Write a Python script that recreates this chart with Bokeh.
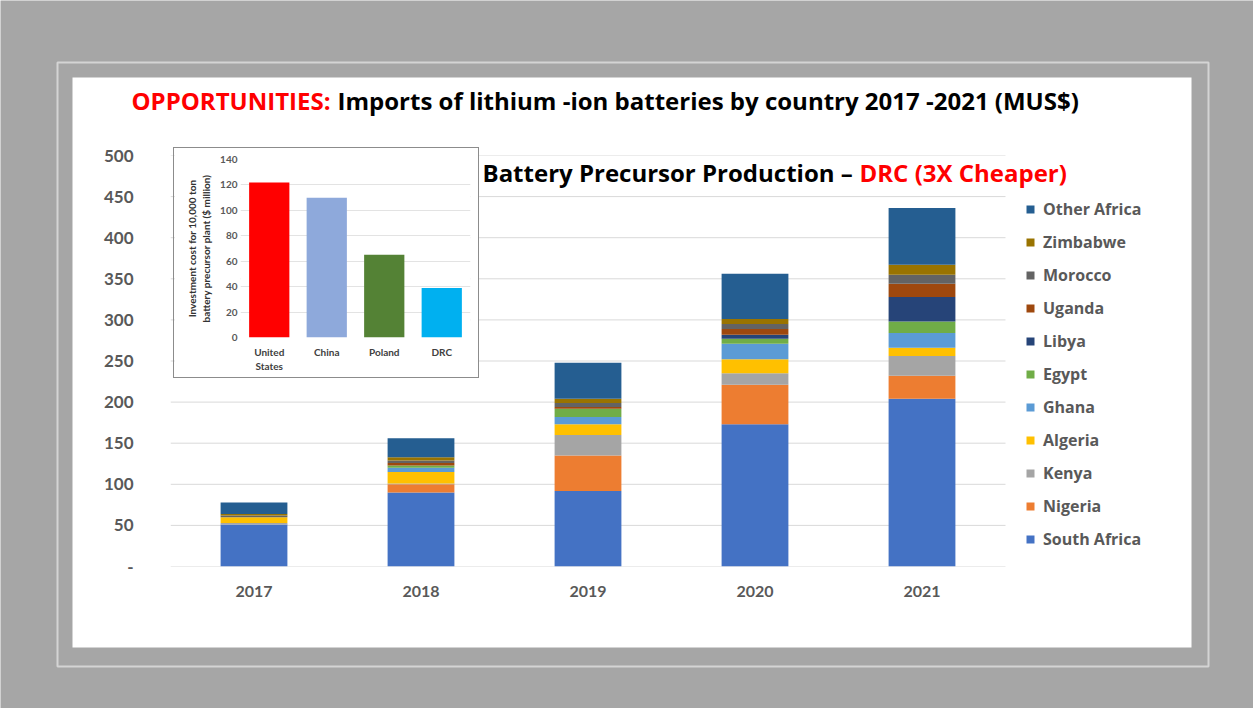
from bokeh.plotting import figure
from bokeh.models import (ColumnDataSource, Range1d, FixedTicker, Legend, LegendItem, Label)
from bokeh.layouts import column
from bokeh.embed import file_html
from bokeh.resources import INLINE

# ---------------- data ----------------
years = ["2017", "2018", "2019", "2020", "2021"]
south_africa = [51, 90, 92, 173, 204]
nigeria = [0, 10, 43, 48, 28]
kenya = [2, 1, 25, 14, 24]
algeria = [7, 14, 13, 17, 10]
ghana = [0, 5, 9, 19, 18]
egypt = [0, 3, 10, 6, 14]
libya = [0, 0, 0, 5, 30]
uganda = [0, 3, 2, 7, 16]
morocco = [2, 3, 5, 6, 11]
zimbabwe = [2, 4, 5, 6, 12]
other_africa = [14, 23, 44, 55, 69]

series_names = ["South Africa", "Nigeria", "Kenya", "Algeria", "Ghana", "Egypt",
                "Libya", "Uganda", "Morocco", "Zimbabwe", "Other Africa"]
series_values = [south_africa, nigeria, kenya, algeria, ghana, egypt,
                 libya, uganda, morocco, zimbabwe, other_africa]
series_colors = ["#4472C4", "#ED7D31", "#A5A5A5", "#FFC000", "#5B9BD5", "#70AD47",
                 "#264478", "#9E480E", "#636363", "#997300", "#255E91"]
y_ticks = [0, 50, 100, 150, 200, 250, 300, 350, 400, 450, 500]

inset_countries = ["United\nStates", "China", "Poland", "DRC"]
inset_costs = [122, 110, 65, 39]
inset_colors = ["#FF0000", "#8EA9DB", "#548235", "#00B0F0"]
inset_ticks = [0, 20, 40, 60, 80, 100, 120, 140]

FONT = "Lato"
TFONT = "Open Sans"
GRAY_TXT = "#595959"
W, H = 1253, 708

# ---------------- background layer (page, panel, headings) ----------------
bg = figure(width=W, height=H, x_range=Range1d(0, W), y_range=Range1d(H, 0),
            x_axis_type=None, y_axis_type=None, output_backend="svg",
            toolbar_location=None, title=None, min_border=0, frame_align=False,
            border_fill_color="#a6a6a6", background_fill_color="#a6a6a6",
            outline_line_color=None)
bg.quad(left=[57], right=[1208], top=[62], bottom=[666], fill_alpha=0,
        line_color="#d4d4d4", line_width=2)
bg.quad(left=[72], right=[1191], top=[77], bottom=[647], fill_color="white",
        line_color=None)

def lab(txt, x, y, color, size):
    bg.add_layout(Label(x=x, y=y, text=txt, text_color=color, text_font=TFONT,
                        text_font_style="bold", text_font_size=size,
                        text_baseline="middle", text_align="left"))

lab("OPPORTUNITIES:", 131, 100, "#FF0000", "24px")
lab("Imports of lithium -ion batteries by country 2017 -2021 (MUS$)", 337, 100, "#000000", "24px")
lab("Battery Precursor Production \u2013", 482, 172, "#000000", "24px")
lab("DRC (3X Cheaper)", 859, 172, "#FF0000", "24px")

# ---------------- main chart layer ----------------
# frame spans the white panel to the right so the legend is inside it;
# the five year slots occupy px 170..1005 (167 px each)
FL, FT, FB = 170, 155, 566
FR = 1191
slot = 167.0
x_pos = list(range(len(years)))
x_end = len(years) - 0.5 + (FR - (FL + slot * len(years))) / slot

p = figure(x_range=Range1d(-0.5, x_end), y_range=Range1d(0, 500), width=W, height=H,
           output_backend="svg", toolbar_location=None, title=None, frame_align=False,
           min_border_left=FL, min_border_right=W - FR,
           min_border_top=FT, min_border_bottom=H - FB,
           border_fill_alpha=0, background_fill_alpha=0,
           outline_line_color=None)
p.xgrid.visible = False
p.ygrid.visible = False

# horizontal gridlines only across the year slots
p.segment(x0=[-0.5] * len(y_ticks), x1=[len(years) - 0.5] * len(y_ticks),
          y0=y_ticks, y1=y_ticks, line_color="#d9d9d9", line_width=1, level="underlay")

data = {"x": x_pos}
for n, v in zip(series_names, series_values):
    data[n] = v
src = ColumnDataSource(data)
rends = p.vbar_stack(series_names, x="x", width=0.4, color=series_colors,
                     line_color=None, source=src)

for ax in (p.xaxis[0], p.yaxis[0]):
    ax.axis_line_color = None
    ax.major_tick_line_color = None
    ax.minor_tick_line_color = None
    ax.major_tick_out = 0
    ax.major_tick_in = 0
    ax.major_label_text_font = FONT
    ax.major_label_text_font_style = "bold"
    ax.major_label_text_font_size = "16px"
    ax.major_label_text_color = GRAY_TXT
p.yaxis.major_label_text_font_size = "17px"
p.xaxis.ticker = FixedTicker(ticks=x_pos)
p.xaxis.major_label_overrides = {i: y for i, y in zip(x_pos, years)}
p.xaxis.major_label_standoff = 19
p.yaxis.ticker = FixedTicker(ticks=y_ticks)
p.yaxis.major_label_overrides = {0: "-"}
p.yaxis.major_label_standoff = 37

items = [LegendItem(label=n, renderers=[r]) for n, r in zip(series_names, rends)][::-1]
legend = Legend(items=items, location=(1025 - FL, FB - 550),
                glyph_width=10, glyph_height=10, label_height=20, spacing=11,
                padding=0, margin=0, border_line_color=None, background_fill_alpha=0,
                label_text_font=TFONT, label_text_font_size="16px",
                label_text_font_style="bold",
                label_text_color=GRAY_TXT, label_standoff=8)
p.add_layout(legend)
p.styles = {"position": "absolute", "left": "0px", "top": "0px"}

# ---------------- inset chart ----------------
q = figure(x_range=inset_countries, y_range=Range1d(0, 140), width=304, height=229,
           output_backend="svg", toolbar_location=None, title=None, frame_align=False,
           min_border_left=66, min_border_right=8, min_border_top=11, min_border_bottom=40,
           border_fill_color="white", background_fill_color="white",
           outline_line_color=None)
q.vbar(x=inset_countries, top=inset_costs, width=0.7, color=inset_colors, line_color=None)
q.xgrid.grid_line_color = None
q.ygrid.grid_line_color = "#e3e3e3"
q.ygrid.ticker = FixedTicker(ticks=inset_ticks)
for ax in (q.xaxis[0], q.yaxis[0]):
    ax.axis_line_color = None
    ax.major_tick_line_color = None
    ax.minor_tick_line_color = None
    ax.major_tick_out = 0
    ax.major_tick_in = 0
    ax.major_label_text_font = FONT
    ax.major_label_text_font_style = "bold"
    ax.major_label_text_font_size = "10px"
q.yaxis.major_label_text_color = GRAY_TXT
q.xaxis.major_label_text_color = "#404040"
q.yaxis.ticker = FixedTicker(ticks=inset_ticks)
q.yaxis.major_label_standoff = 3
q.xaxis.major_label_standoff = 8
q.yaxis.axis_label = "Investment cost for 10,000 ton\nbattery precursor plant ($ million)"
q.yaxis.axis_label_text_font = FONT
q.yaxis.axis_label_text_font_size = "10px"
q.yaxis.axis_label_text_font_style = "bold"
q.yaxis.axis_label_text_color = "#333333"
q.yaxis.axis_label_standoff = 5
q.styles = {"position": "absolute", "left": "174px", "top": "148px",
            "outline": "1.5px solid #8c8c8c", "z-index": "5"}

layout = column(bg, p, q)
open("out.html", "w").write(file_html(layout, INLINE))
